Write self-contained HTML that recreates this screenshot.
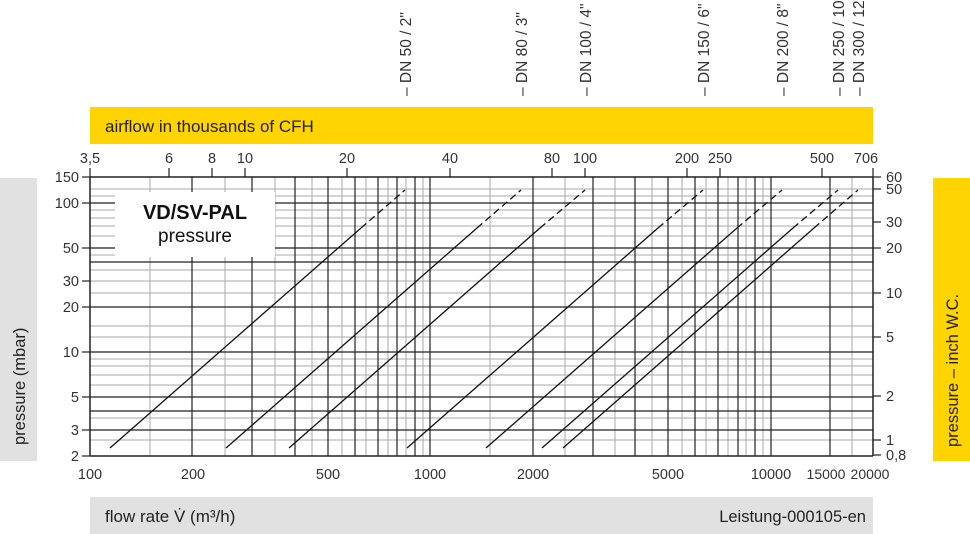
<!DOCTYPE html>
<html><head><meta charset="utf-8"><style>
body{margin:0;background:#fff;}
svg{display:block;font-family:"Liberation Sans",sans-serif;}
</style></head><body>
<svg width="970" height="534" viewBox="0 0 970 534" xmlns="http://www.w3.org/2000/svg">
<rect width="970" height="534" fill="#fff"/>
<!-- bars -->
<rect x="90" y="107" width="783" height="37" fill="#FFD400"/>
<text x="105" y="132" font-size="17" fill="#222">airflow in thousands of CFH</text>
<rect x="933" y="178" width="37" height="283" fill="#FFD400"/>
<text transform="translate(958,447) rotate(-90)" font-size="16.5" fill="#222">pressure – inch W.C.</text>
<rect x="0" y="178" width="37" height="283" fill="#e1e1e1"/>
<text transform="translate(25,445) rotate(-90)" font-size="16.5" fill="#222">pressure (mbar)</text>
<rect x="90" y="497" width="783" height="37" fill="#e1e1e1"/>
<text x="105" y="522" font-size="17" fill="#222">flow rate V̇  (m³/h)</text>
<text x="866" y="522" font-size="16.5" fill="#222" text-anchor="end">Leistung-000105-en</text>

<!-- light vertical grid -->
<g stroke="#aaa" stroke-width="1">
<line x1="150" y1="177" x2="150" y2="456"/><line x1="225" y1="177" x2="225" y2="456"/><line x1="275" y1="177" x2="275" y2="456"/>
<line x1="312" y1="177" x2="312" y2="456"/><line x1="342" y1="177" x2="342" y2="456"/><line x1="366" y1="177" x2="366" y2="456"/>
<line x1="388" y1="177" x2="388" y2="456"/><line x1="406" y1="177" x2="406" y2="456"/><line x1="423" y1="177" x2="423" y2="456"/>
<line x1="490" y1="177" x2="490" y2="456"/><line x1="565" y1="177" x2="565" y2="456"/><line x1="615" y1="177" x2="615" y2="456"/>
<line x1="652" y1="177" x2="652" y2="456"/><line x1="682" y1="177" x2="682" y2="456"/><line x1="706" y1="177" x2="706" y2="456"/>
<line x1="728" y1="177" x2="728" y2="456"/><line x1="746" y1="177" x2="746" y2="456"/><line x1="763" y1="177" x2="763" y2="456"/>
<line x1="830" y1="177" x2="830" y2="456"/><line x1="852" y1="177" x2="852" y2="456"/>
</g>
<!-- light horizontal grid -->
<g stroke="#aaa" stroke-width="1">
<line x1="90" y1="385" x2="873" y2="385"/><line x1="90" y1="375" x2="873" y2="375"/><line x1="90" y1="366" x2="873" y2="366"/>
<line x1="90" y1="359" x2="873" y2="359"/><line x1="90" y1="326" x2="873" y2="326"/><line x1="90" y1="281" x2="873" y2="281"/>
<line x1="90" y1="236" x2="873" y2="236"/><line x1="90" y1="226" x2="873" y2="226"/><line x1="90" y1="218" x2="873" y2="218"/>
<line x1="90" y1="210" x2="873" y2="210"/><line x1="90" y1="189" x2="873" y2="189"/><line x1="90" y1="196" x2="873" y2="196"/>
<line x1="90" y1="440" x2="873" y2="440"/><line x1="90" y1="418" x2="873" y2="418"/><line x1="90" y1="337" x2="873" y2="337"/>
<line x1="90" y1="293" x2="873" y2="293"/><line x1="90" y1="270" x2="873" y2="270"/><line x1="90" y1="255" x2="873" y2="255"/>
</g>
<!-- dark vertical grid -->
<g stroke="#222" stroke-width="1.2">
<line x1="192" y1="177" x2="192" y2="456"/><line x1="252" y1="177" x2="252" y2="456"/><line x1="295" y1="177" x2="295" y2="456"/>
<line x1="328" y1="177" x2="328" y2="456"/><line x1="355" y1="177" x2="355" y2="456"/><line x1="378" y1="177" x2="378" y2="456"/>
<line x1="397" y1="177" x2="397" y2="456"/><line x1="415" y1="177" x2="415" y2="456"/><line x1="430" y1="177" x2="430" y2="456"/>
<line x1="533" y1="177" x2="533" y2="456"/><line x1="593" y1="177" x2="593" y2="456"/><line x1="635" y1="177" x2="635" y2="456"/>
<line x1="668" y1="177" x2="668" y2="456"/><line x1="695" y1="177" x2="695" y2="456"/><line x1="718" y1="177" x2="718" y2="456"/>
<line x1="738" y1="177" x2="738" y2="456"/><line x1="755" y1="177" x2="755" y2="456"/><line x1="771" y1="177" x2="771" y2="456"/>
<line x1="830" y1="177" x2="830" y2="456"/>
</g>
<!-- dark horizontal grid -->
<g stroke="#222" stroke-width="1.2">
<line x1="90" y1="430" x2="873" y2="430"/><line x1="90" y1="411" x2="873" y2="411"/><line x1="90" y1="397" x2="873" y2="397"/>
<line x1="90" y1="352" x2="873" y2="352"/><line x1="90" y1="307" x2="873" y2="307"/><line x1="90" y1="262" x2="873" y2="262"/>
<line x1="90" y1="248" x2="873" y2="248"/><line x1="90" y1="203" x2="873" y2="203"/>
</g>
<!-- frame -->
<g stroke="#222" stroke-width="1.5" fill="none">
<line x1="90" y1="177" x2="873" y2="177"/><line x1="90" y1="456" x2="873" y2="456"/>
<line x1="90" y1="177" x2="90" y2="456"/><line x1="873" y1="177" x2="873" y2="456"/>
</g>
<!-- title box -->
<rect x="115" y="192" width="160" height="65" fill="#fff"/>
<text x="195" y="219" font-size="20" font-weight="bold" text-anchor="middle" fill="#111">VD/SV-PAL</text>
<text x="195" y="242" font-size="19" text-anchor="middle" fill="#111">pressure</text>

<!-- curves -->
<g stroke="#111" stroke-width="1.3">
<line x1="110" y1="448" x2="361" y2="228"/><line x1="361" y1="228" x2="405" y2="190" stroke-dasharray="7,4"/>
<line x1="226" y1="448" x2="477" y2="228"/><line x1="477" y1="228" x2="521" y2="190" stroke-dasharray="7,4"/>
<line x1="289" y1="448" x2="540" y2="228"/><line x1="540" y1="228" x2="585" y2="190" stroke-dasharray="7,4"/>
<line x1="407" y1="448" x2="658" y2="228"/><line x1="658" y1="228" x2="703" y2="190" stroke-dasharray="7,4"/>
<line x1="486" y1="448" x2="737" y2="228"/><line x1="737" y1="228" x2="782" y2="190" stroke-dasharray="7,4"/>
<line x1="542" y1="448" x2="793" y2="228"/><line x1="793" y1="228" x2="838" y2="190" stroke-dasharray="7,4"/>
<line x1="563" y1="448" x2="814" y2="228"/><line x1="814" y1="228" x2="858" y2="190" stroke-dasharray="7,4"/>
</g>

<!-- top ticks -->
<g stroke="#222" stroke-width="1.2">
<line x1="90" y1="168" x2="90" y2="177"/><line x1="169" y1="168" x2="169" y2="177"/><line x1="212" y1="168" x2="212" y2="177"/>
<line x1="245" y1="168" x2="245" y2="177"/><line x1="347" y1="168" x2="347" y2="177"/><line x1="450" y1="168" x2="450" y2="177"/>
<line x1="552" y1="168" x2="552" y2="177"/><line x1="585" y1="168" x2="585" y2="177"/><line x1="687" y1="168" x2="687" y2="177"/>
<line x1="720" y1="168" x2="720" y2="177"/><line x1="822" y1="168" x2="822" y2="177"/><line x1="873" y1="168" x2="873" y2="177"/>
</g>
<g font-size="14.5" fill="#333" text-anchor="middle">
<text x="90" y="163">3,5</text><text x="169" y="163">6</text><text x="212" y="163">8</text><text x="245" y="163">10</text>
<text x="347" y="163">20</text><text x="450" y="163">40</text><text x="552" y="163">80</text><text x="585" y="163">100</text>
<text x="687" y="163">200</text><text x="720" y="163">250</text><text x="822" y="163">500</text><text x="866" y="163">706</text>
</g>
<!-- left ticks / labels -->
<g stroke="#222" stroke-width="1.2">
<line x1="82" y1="177" x2="90" y2="177"/><line x1="82" y1="203" x2="90" y2="203"/><line x1="82" y1="248" x2="90" y2="248"/>
<line x1="82" y1="281" x2="90" y2="281"/><line x1="82" y1="307" x2="90" y2="307"/><line x1="82" y1="352" x2="90" y2="352"/>
<line x1="82" y1="397" x2="90" y2="397"/><line x1="82" y1="430" x2="90" y2="430"/><line x1="82" y1="456" x2="90" y2="456"/>
</g>
<g font-size="14.5" fill="#333" text-anchor="end">
<text x="79" y="182">150</text><text x="79" y="208">100</text><text x="79" y="253">50</text><text x="79" y="286">30</text>
<text x="79" y="312">20</text><text x="79" y="357">10</text><text x="79" y="402">5</text><text x="79" y="435">3</text><text x="79" y="461">2</text>
</g>
<!-- right ticks / labels -->
<g stroke="#222" stroke-width="1.2">
<line x1="873" y1="177" x2="881" y2="177"/><line x1="873" y1="189" x2="881" y2="189"/><line x1="873" y1="222" x2="881" y2="222"/>
<line x1="873" y1="248" x2="881" y2="248"/><line x1="873" y1="293" x2="881" y2="293"/><line x1="873" y1="337" x2="881" y2="337"/>
<line x1="873" y1="396" x2="881" y2="396"/><line x1="873" y1="440" x2="881" y2="440"/><line x1="873" y1="455" x2="881" y2="455"/>
</g>
<g font-size="14.5" fill="#333">
<text x="886" y="182">60</text><text x="886" y="194">50</text><text x="886" y="227">30</text><text x="886" y="253">20</text>
<text x="886" y="298">10</text><text x="886" y="342">5</text><text x="886" y="401">2</text><text x="886" y="445">1</text><text x="886" y="460">0,8</text>
</g>
<!-- bottom labels -->
<g font-size="14.5" fill="#333" text-anchor="middle">
<text x="90" y="479">100</text><text x="193" y="479">200</text><text x="328" y="479">500</text><text x="430" y="479">1000</text>
<text x="533" y="479">2000</text><text x="668" y="479">5000</text><text x="771" y="479">10000</text>
</g>
<g font-size="14" fill="#333" text-anchor="middle">
<text x="826" y="479">15000</text><text x="870" y="479">20000</text>
</g>
<!-- DN labels -->
<g font-size="15.5" fill="#333">
<text transform="translate(411,96) rotate(-90)">– DN 50 / 2"</text>
<text transform="translate(527,96) rotate(-90)">– DN 80 / 3"</text>
<text transform="translate(591,96) rotate(-90)">– DN 100 / 4"</text>
<text transform="translate(709,96) rotate(-90)">– DN 150 / 6"</text>
<text transform="translate(788,96) rotate(-90)">– DN 200 / 8"</text>
<text transform="translate(844,96) rotate(-90)">– DN 250 / 10"</text>
<text transform="translate(864,96) rotate(-90)">– DN 300 / 12"</text>
</g>
</svg>
</body></html>
